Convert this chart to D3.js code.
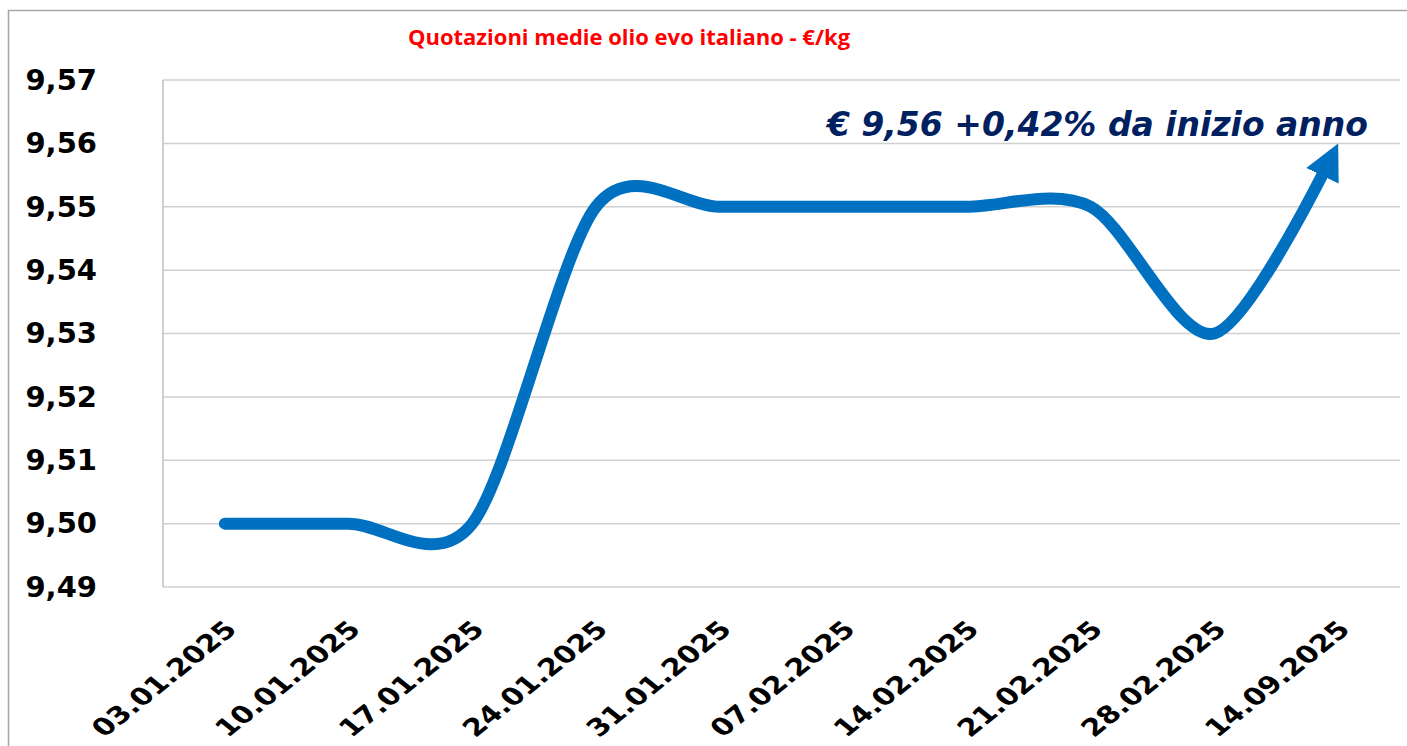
<!DOCTYPE html>
<html>
<head>
<meta charset="utf-8">
<script src="https://cdn.jsdelivr.net/npm/d3@7"></script>
<style>
  html, body { margin: 0; padding: 0; background: #fff; overflow: hidden; }
</style>
</head>
<body>
<div id="chart"></div>
<script>
// data
const dates = ["03.01.2025", "10.01.2025", "17.01.2025", "24.01.2025", "31.01.2025",
    "07.02.2025", "14.02.2025", "21.02.2025", "28.02.2025", "14.09.2025"];
const prices = [9.50, 9.50, 9.50, 9.55, 9.55, 9.55, 9.55, 9.55, 9.53, 9.56];
const yTicks = [9.49, 9.50, 9.51, 9.52, 9.53, 9.54, 9.55, 9.56, 9.57];
const title = "Quotazioni medie olio evo italiano - €/kg";
const note = "€ 9,56 +0,42% da inizio anno";

const W = 1407, H = 746;
const margin = {top: 80, right: 7, bottom: 159, left: 163},
    width = W - margin.left - margin.right,
    height = H - margin.top - margin.bottom;

const root = d3.select("#chart")
    .append("svg")
    .attr("width", W)
    .attr("height", H);

// outer chart border
root.append("rect")
    .attr("x", 8.5).attr("y", 10.5)
    .attr("width", W + 10).attr("height", H + 10)
    .attr("fill", "#fff")
    .attr("stroke", "#a6a6a6")
    .attr("stroke-width", 1.5);

root.append("text")
    .attr("x", 629).attr("y", 45)
    .attr("text-anchor", "middle")
    .style("font-family", "'Open Sans'")
    .style("font-weight", 700)
    .style("font-size", "22px")
    .attr("fill", "#ff0000")
    .text(title);

const svg = root.append("g")
    .attr("transform", `translate(${margin.left}, ${margin.top})`);

const x = d3.scaleBand()
    .domain(dates)
    .range([0, width]);

const y = d3.scaleLinear()
    .domain([9.49, 9.57])
    .range([height, 0]);

// gridlines
svg.append("g")
    .selectAll("line")
    .data(yTicks)
    .enter()
    .append("line")
    .attr("x1", 0).attr("x2", width)
    .attr("y1", d => y(d)).attr("y2", d => y(d))
    .attr("stroke", "#d0d0d0")
    .attr("stroke-width", 1.5);

// y axis line
svg.append("line")
    .attr("x1", 0).attr("x2", 0)
    .attr("y1", 0).attr("y2", height)
    .attr("stroke", "#bfbfbf")
    .attr("stroke-width", 1.5);

// y labels
const yAxis = svg.append("g")
    .call(d3.axisLeft(y).tickValues(yTicks).tickSize(0).tickPadding(66)
        .tickFormat(d => d3.format(".2f")(d).replace(".", ",")));
yAxis.select(".domain").remove();
yAxis.selectAll("text")
    .style("font-family", "'DejaVu Sans'")
    .style("font-weight", 700)
    .style("font-size", "29px")
    .attr("fill", "#000");

// x labels (the picture is a bit stretched sideways, so the 45° labels lean flatter)
const xAxis = svg.append("g")
    .attr("transform", `translate(0, ${height})`)
    .call(d3.axisBottom(x).tickSize(0).tickPadding(0));
xAxis.select(".domain").remove();
xAxis.selectAll("text")
    .style("font-family", "'DejaVu Sans'")
    .style("font-weight", 700)
    .style("font-size", "24px")
    .attr("fill", "#000")
    .attr("text-anchor", "end")
    .attr("y", 0)
    .attr("dy", "0.35em")
    .attr("transform", "translate(6,38) scale(1.25,1) rotate(-45)");

// arrow marker
const defs = root.append("defs");
defs.append("marker")
    .attr("id", "arrow")
    .attr("markerUnits", "userSpaceOnUse")
    .attr("viewBox", "0 0 36 36")
    .attr("markerWidth", 36).attr("markerHeight", 36)
    .attr("refX", 36).attr("refY", 18)
    .attr("orient", "auto")
    .append("path")
    .attr("d", "M0,0 L36,18 L0,36 Z")
    .attr("fill", "#0070c0");

const line = d3.line()
    .x(d => x(d.date) + x.bandwidth() / 2)
    .y(d => y(d.price))
    .curve(d3.curveCardinal.tension(0.12));

const pts = dates.map((d, i) => ({date: d, price: prices[i]}));

const path = svg.append("path")
    .datum(pts)
    .attr("d", line)
    .attr("fill", "none")
    .attr("stroke", "#0070c0")
    .attr("stroke-width", 12)
    .attr("stroke-linecap", "round")
    .attr("marker-end", "url(#arrow)");

const L = path.node().getTotalLength();
path.attr("stroke-dasharray", `${L - 18} ${L}`);

// annotation
svg.append("text")
    .attr("x", 1368 - margin.left)
    .attr("y", 136 - margin.top)
    .attr("text-anchor", "end")
    .style("font-family", "'DejaVu Sans'")
    .style("font-weight", 700)
    .style("font-style", "italic")
    .style("font-size", "33px")
    .attr("fill", "#002060")
    .text(note);
</script>
</body>
</html>
